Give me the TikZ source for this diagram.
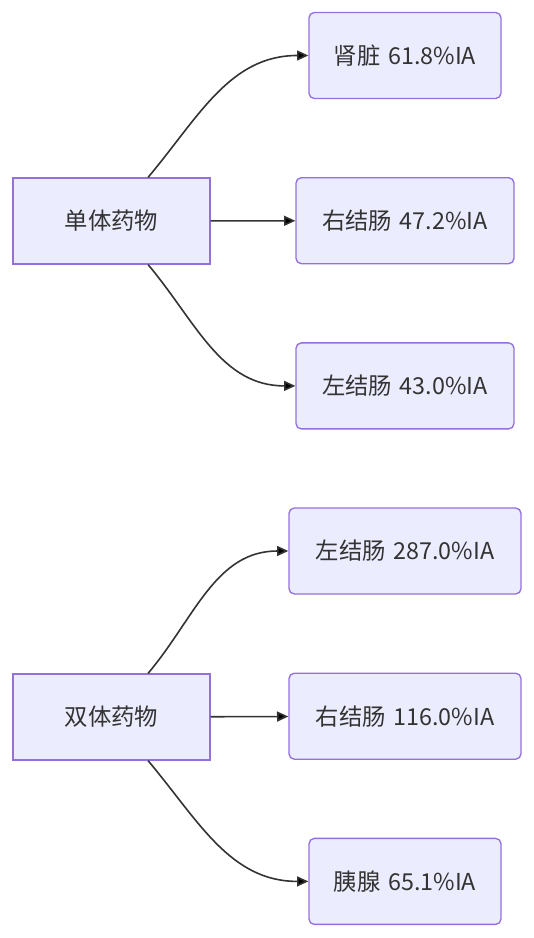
\documentclass[tikz,border=0pt]{standalone}
\usepackage{fontspec}
\setmainfont{Noto Sans CJK SC}
\usetikzlibrary{positioning,arrows.meta}
\definecolor{boxfill}{HTML}{ECECFF}
\definecolor{boxline}{HTML}{9370DB}
\definecolor{ink}{HTML}{333333}
\tikzset{drug/.style={draw=boxline,fill=boxfill,line width=1pt,minimum width=147.75pt,minimum height=64.5pt,text=ink,font=\fontsize{17.5}{20}\selectfont},
organ/.style={drug,rounded corners=4pt,minimum width=#1},
flow/.style={draw=ink,line width=1.2pt,-{Triangle[length=8.5pt,width=7.5pt]}}}

\begin{document}
\begin{tikzpicture}[x=0.75pt,y=-0.75pt]
\useasboundingbox (0,0) rectangle (534,938);
% single drug
\node[drug] (single) at (111.5,221) {单体药物};
\node[organ=144pt] (kidney) at (405,55.5) {肾脏\,\,61.8\%IA};
\node[organ=163.5pt,below=58.4pt of kidney] (rcolonA) {右结肠\,\,47.2\%IA};
\node[organ=163.5pt,below=58.4pt of rcolonA] (lcolonA) {左结肠\,\,43.0\%IA};
\path[flow] (single) edge[out=50,in=180] (kidney);
\path[flow] (single) edge (rcolonA);
\path[flow] (single) edge[out=-50,in=180] (lcolonA);
% dual drug
\node[drug] (dual) at (111.5,717) {双体药物};
\node[organ=174pt] (lcolonB) at (405,551) {左结肠\,\,287.0\%IA};
\node[organ=174pt,below=58.4pt of lcolonB] (rcolonB) {右结肠\,\,116.0\%IA};
\node[organ=144pt,below=58.4pt of rcolonB] (pancreas) {胰腺\,\,65.1\%IA};
\path[flow] (dual) edge[out=50,in=180] (lcolonB);
\path[flow] (dual) edge (rcolonB);
\path[flow] (dual) edge[out=-50,in=180] (pancreas);
\end{tikzpicture}
\end{document}
